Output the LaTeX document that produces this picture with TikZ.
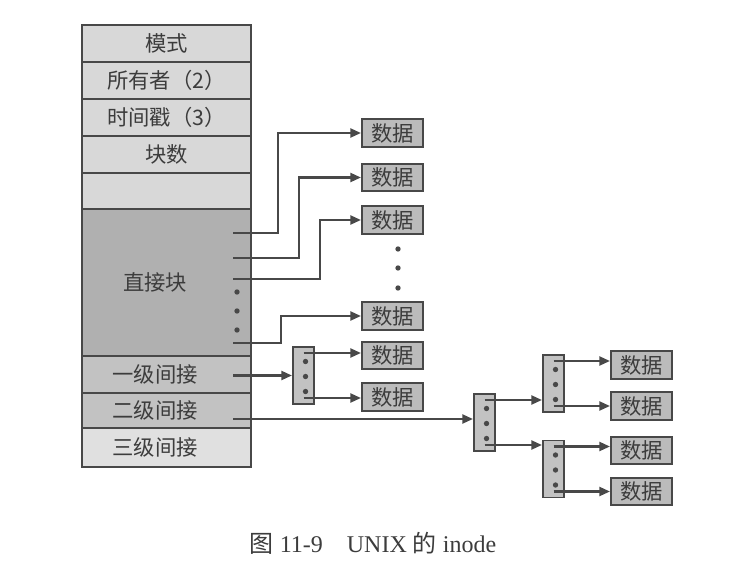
\documentclass[tikz,border=0pt]{standalone}
\usepackage{fontspec}
\setmainfont{Liberation Serif}
\newfontfamily\cjk{Noto Sans CJK SC}
\usetikzlibrary{arrows.meta}
\definecolor{edge}{HTML}{484848}
\definecolor{ink}{HTML}{3C3C3C}
\definecolor{pale}{HTML}{D8D8D8}
\definecolor{mid}{HTML}{C2C2C2}
\definecolor{deep}{HTML}{B0B0B0}
\definecolor{blk}{HTML}{BBBBBB}
\newcommand{\leftpad}[1]{#1\kern17pt}

\begin{document}
\begin{tikzpicture}[x=0.75pt,y=-0.75pt,font=\cjk\fontsize{16}{19}\selectfont,
  row/.style={draw=edge,line width=1.3pt,minimum width=126.75pt,inner sep=0pt,text=ink},
  data/.style={draw=edge,line width=1.3pt,fill=blk,minimum width=45.75pt,minimum height=20.5pt,inner sep=0pt,text=ink},
  idx/.style={draw=edge,line width=1.3pt,fill=mid,minimum width=15.75pt,minimum height=42.75pt,inner sep=0pt},
  ptr/.style={draw=edge,line width=2.1pt,-{Triangle[length=8pt,width=6.5pt]}}]
  \useasboundingbox (0,0) rectangle (753,570);

  \node[row,fill=pale,minimum height=27.75pt] (mode)   at (166.5,43.5)  {模式};
  \node[row,fill=pale,minimum height=27.75pt] (owner)  at (166.5,80.5)  {所有者（2）};
  \node[row,fill=pale,minimum height=27.75pt] (stamp)  at (166.5,117.5) {时间戳（3）};
  \node[row,fill=pale,minimum height=27.75pt] (count)  at (166.5,154.5) {块数};
  \node[row,fill=pale,minimum height=27pt]    (spare)  at (166.5,191)   {};
  \node[row,fill=deep,minimum height=110.25pt] (direct) at (166.5,282.5) {\leftpad{直接块}};
  \node[row,fill=mid,minimum height=27.75pt]  (single) at (166.5,374.5) {\leftpad{一级间接}};
  \node[row,fill=mid,minimum height=26.25pt]  (double) at (166.5,410.5) {\leftpad{二级间接}};
  \node[row,fill=pale!80!white,minimum height=29.25pt] (triple) at (166.5,447.5) {\leftpad{三级间接}};

  \coordinate (p1) at (233,233);
  \coordinate (p2) at (233,258);
  \coordinate (p3) at (233,279);
  \coordinate (p4) at (233,343);
  \coordinate (s1) at (233,375.5);
  \coordinate (s2) at (233,419);
  \foreach \y in {292,311,330} \fill[edge] (237,\y) circle (2pt);

  \node[data] (d1) at (392.5,133)   {数据};
  \node[data] (d2) at (392.5,177.5) {数据};
  \node[data] (d3) at (392.5,220)   {数据};
  \node[data] (d4) at (392.5,316)   {数据};
  \node[data] (d5) at (392.5,355.5) {数据};
  \node[data] (d6) at (392.5,397)   {数据};
  \foreach \y in {249,268,288} \fill[edge] (398,\y) circle (2pt);

  \node[idx] (i1) at (303.5,375.5) {};
  \node[idx] (i2) at (484.5,422.5) {};
  \node[idx] (i3) at (553.5,383.5) {};
  \node[idx] (i4) at (553.5,469)   {};
  \foreach \b in {i1,i2,i3,i4} {
    \path (\b) ++(0,-22.5) coordinate (\b t) ++(0,45) coordinate (\b b);
    \foreach \k in {-14,1,16} \fill[edge] (\b) ++(2,\k) circle (2pt);
  }

  \node[data] (e1) at (641.5,365)   {数据};
  \node[data] (e2) at (641.5,406)   {数据};
  \node[data] (e3) at (641.5,450.5) {数据};
  \node[data] (e4) at (641.5,491.5) {数据};

  \draw[ptr] (p1) -- ++(45,0) |- (d1);
  \draw[ptr] (p2) -- ++(66,0) |- (d2);
  \draw[ptr] (p3) -- ++(87,0) |- (d3);
  \draw[ptr] (p4) -- ++(48,0) |- (d4);
  \draw[ptr] (s1) -- (i1);
  \draw[ptr] (i1t) -- (i1t -| d5.west);
  \draw[ptr] (i1b) -- (i1b -| d6.west);
  \draw[ptr] (s2) -- (s2 -| i2.west);
  \draw[ptr] (i2t) -- (i2t -| i3.west);
  \draw[ptr] (i2b) -- (i2b -| i4.west);
  \draw[ptr] (i3t) -- (i3t -| e1.west);
  \draw[ptr] (i3b) -- (i3b -| e2.west);
  \draw[ptr] (i4t) -- (i4t -| e3.west);
  \draw[ptr] (i4b) -- (i4b -| e4.west);

  \node[font=\fontsize{18}{21}\selectfont,text=ink] (cap) at (373,543) {{\cjk 图} 11-9\quad UNIX {\cjk 的} inode};
\end{tikzpicture}
\end{document}
